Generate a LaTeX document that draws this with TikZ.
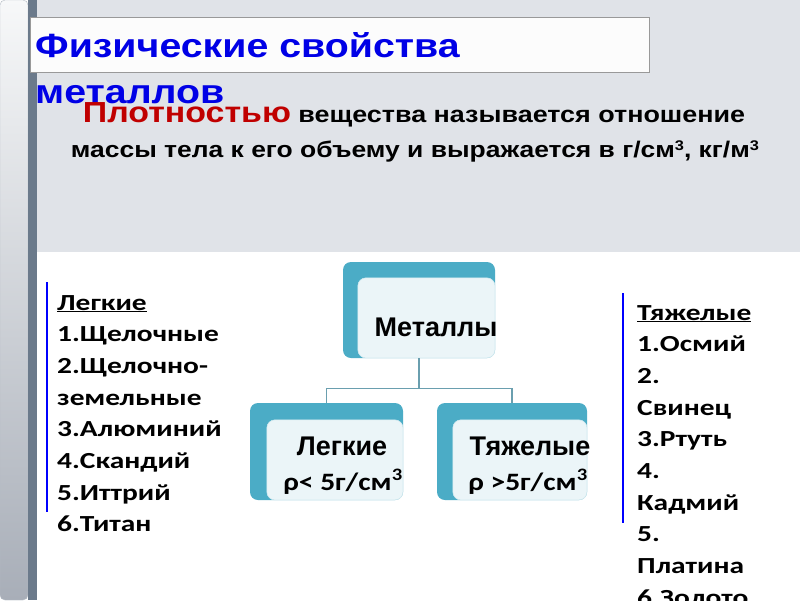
\documentclass[tikz,border=0pt]{standalone}
\usepackage{fontspec}
\setmainfont{Liberation Sans}[FakeStretch=1.17]
\newfontfamily\boxfont{Liberation Sans}
\newfontfamily\calfont{Carlito}[FakeStretch=1.28]
\newfontfamily\rhofont{Carlito}[FakeStretch=1.18]
\usetikzlibrary{positioning}
\definecolor{slidegray}{HTML}{E0E3E8}
\definecolor{barslate}{HTML}{6B7A8B}
\definecolor{paneltop}{HTML}{F7F8F9}
\definecolor{panelbottom}{HTML}{A8AEB8}
\definecolor{aquaback}{HTML}{4BACC6}
\definecolor{aquafront}{HTML}{EBF5F8}
\definecolor{linkaqua}{HTML}{6A9FAF}
\definecolor{titleblue}{HTML}{0000E6}
\definecolor{densred}{HTML}{C00000}
\tikzset{
  backbox/.style={fill=aquaback, rounded corners=8pt, inner sep=0pt},
  frontbox/.style={fill=aquafront, draw=aquafront!85!aquaback, line width=0.6pt, rounded corners=8pt, inner sep=0pt, anchor=south east},
  boxlabel/.style={font=\boxfont\bfseries\fontsize{27}{30}\selectfont, inner sep=0pt, anchor=base},
  rholabel/.style={font=\rhofont\bfseries\fontsize{25}{30}\selectfont, inner sep=0pt, anchor=base},
  link/.style={draw=linkaqua, line width=1.2pt},
  listline/.style={font=\calfont\bfseries\fontsize{23}{30}\selectfont, inner sep=0pt, anchor=base west},
  markbar/.style={draw=blue, line width=2pt}
}
\newcommand{\cubed}{\raisebox{0.55ex}{\fontsize{14}{14}\selectfont 3}}
\begin{document}
\begin{tikzpicture}[x=1pt, y=-1pt, every node/.style={text=black}]
    \useasboundingbox (0,0) rectangle (800,600);
    \clip (0,0) rectangle (800,600);
    % slide background
    \fill[white] (0,0) rectangle (800,600);
    \fill[slidegray] (37,0) rectangle (800,252);
    \shade[top color=paneltop, bottom color=panelbottom, draw=barslate!50, rounded corners=5pt] (0,0) rectangle (28,600);
    \fill[barslate] (28,0) rectangle (37,600);
    % title
    \draw[fill=white!98!gray, draw=gray!80] (30,17) rectangle (649,72);
    \node[anchor=base west, inner sep=0pt, text=titleblue, font=\bfseries\fontsize{33.6}{40}\selectfont] (title1) at (35,57) {Физические свойства};
    \node[anchor=base west, inner sep=0pt, text=titleblue, font=\bfseries\fontsize{33.6}{40}\selectfont] (title2) at (35,103) {металлов};
    % definition
    \node[anchor=base, inner sep=0pt, font=\bfseries\fontsize{23}{28}\selectfont] (def1) at (414,122) {{\color{densred}\fontsize{29}{30}\selectfont Плотностью} вещества называется отношение};
    \node[anchor=base, inner sep=0pt, font=\bfseries\fontsize{22.6}{28}\selectfont] (def2) at (415,157) {массы тела к его объему и выражается в г/см\cubed, кг/м\cubed};
    % hierarchy
    \node[backbox, minimum width=152pt, minimum height=96pt] (metback) at (419,310) {};
    \node[frontbox, minimum width=137pt, minimum height=80pt] (met) at (metback.south east) {};
    \node[boxlabel] (metlabel) at (436,336) {Металлы};
    \node[backbox, minimum width=153pt, minimum height=97pt] (legback) at (326.5,451.5) {};
    \node[frontbox, minimum width=136pt, minimum height=80pt] (leg) at (legback.south east) {};
    \node[boxlabel] (leglabel) at (342,455) {Легкие};
    \node[rholabel] (legrho) at (343,490) {ρ< 5г/см\textsuperscript{3}};
    \node[backbox, minimum width=150pt, minimum height=97pt] (tyaback) at (512,451.5) {};
    \node[frontbox, minimum width=134pt, minimum height=80pt] (tya) at (tyaback.south east) {};
    \node[boxlabel] (tyalabel) at (530,455) {Тяжелые};
    \node[rholabel] (tyarho) at (528,490) {ρ >5г/см\textsuperscript{3}};
    \draw[link] (metback.south) -- ++(0,30) coordinate (fork) -| (legback.north);
    \draw[link] (fork) -| (tyaback.north);
    % light metals list
    \draw[markbar] (47,282) -- (47,512);
    \foreach \txt [count=\i from 0] in {\underline{Легкие}, 1.Щелочные, 2.Щелочно-, земельные, 3.Алюминий, 4.Скандий, 5.Иттрий, 6.Титан}
      \node[listline] (light\i) at (57,310+31.7*\i) {\txt};
    % heavy metals list
    \draw[markbar] (623,293) -- (623,523);
    \foreach \txt [count=\i from 0] in {\underline{Тяжелые}, 1.Осмий, 2., Свинец, 3.Ртуть, 4., Кадмий, 5., Платина, 6.Золото}
      \node[listline] (heavy\i) at (637,320+31.7*\i) {\txt};
\end{tikzpicture}
\end{document}
